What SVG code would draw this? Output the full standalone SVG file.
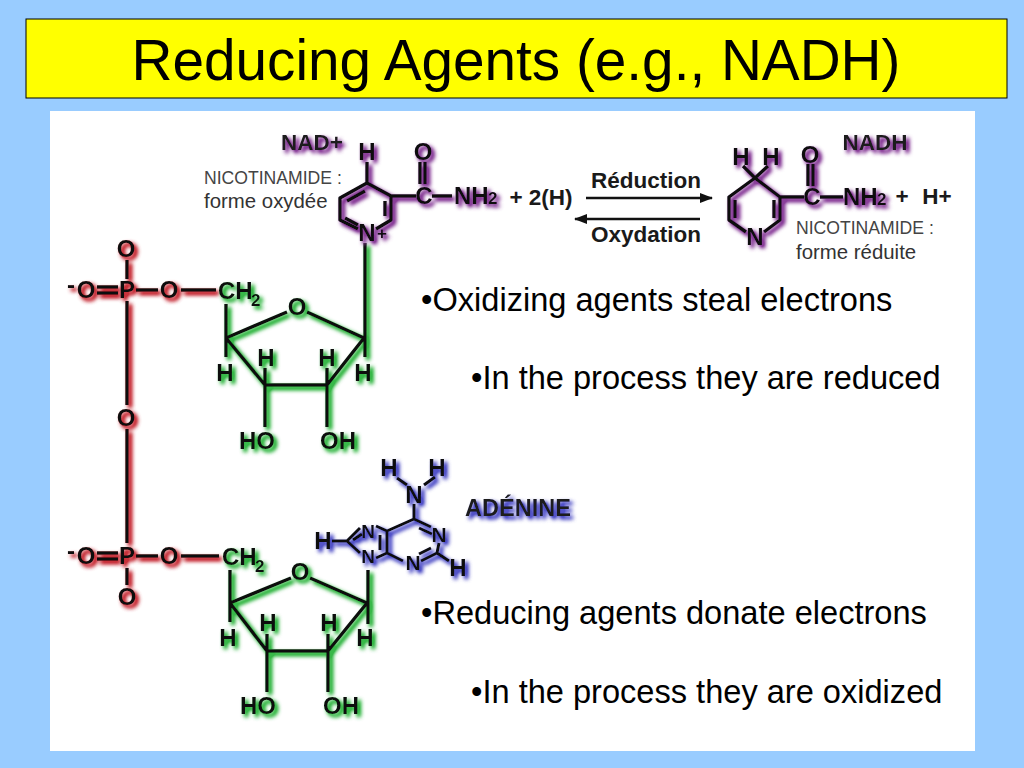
<svg xmlns="http://www.w3.org/2000/svg" width="1024" height="768" viewBox="0 0 1024 768">
<style>
text{font-family:"Liberation Sans",Arial,sans-serif;fill:#000}
.title{font-size:56.7px;text-anchor:middle}
.body{font-size:32.6px}
.a{font-size:24px;font-weight:bold;text-anchor:middle;fill:#0c0c0c}
.s{font-size:17px;font-weight:bold;fill:#0c0c0c}
.lab{font-size:22.5px;font-weight:bold;fill:#1a1a1a;text-anchor:middle}
.cap{font-size:17.6px;fill:#444}
.capd{font-size:20.4px;fill:#333}
.b{stroke:#0c0c0c;stroke-width:3.4;fill:none;stroke-linejoin:round}
.t{stroke:#111;stroke-width:2.6;fill:none}
</style>
<defs>
<filter id="gr" x="-20%" y="-20%" width="140%" height="140%"><feGaussianBlur in="SourceAlpha" stdDeviation="2"/><feOffset dx="3" dy="3"/><feComponentTransfer result="a"><feFuncA type="linear" slope="1.7"/></feComponentTransfer><feFlood flood-color="#c8303a"/><feComposite in2="a" operator="in"/><feMerge><feMergeNode/><feMergeNode in="SourceGraphic"/></feMerge></filter>
<filter id="gg" x="-20%" y="-20%" width="140%" height="140%"><feGaussianBlur in="SourceAlpha" stdDeviation="2"/><feOffset dx="3" dy="3"/><feComponentTransfer result="a"><feFuncA type="linear" slope="1.7"/></feComponentTransfer><feFlood flood-color="#38b848"/><feComposite in2="a" operator="in"/><feMerge><feMergeNode/><feMergeNode in="SourceGraphic"/></feMerge></filter>
<filter id="gp" x="-20%" y="-20%" width="140%" height="140%"><feGaussianBlur in="SourceAlpha" stdDeviation="2"/><feOffset dx="3" dy="3"/><feComponentTransfer result="a"><feFuncA type="linear" slope="1.7"/></feComponentTransfer><feFlood flood-color="#8a3f9a"/><feComposite in2="a" operator="in"/><feMerge><feMergeNode/><feMergeNode in="SourceGraphic"/></feMerge></filter>
<filter id="gb" x="-20%" y="-20%" width="140%" height="140%"><feGaussianBlur in="SourceAlpha" stdDeviation="2"/><feOffset dx="3" dy="3"/><feComponentTransfer result="a"><feFuncA type="linear" slope="1.7"/></feComponentTransfer><feFlood flood-color="#5252c8"/><feComposite in2="a" operator="in"/><feMerge><feMergeNode/><feMergeNode in="SourceGraphic"/></feMerge></filter>
<marker id="ah" markerUnits="userSpaceOnUse" markerWidth="13" markerHeight="11" refX="12" refY="5.5" orient="auto"><path d="M0,0.5L13,5.5L0,10.5z" fill="#111"/></marker>
</defs>
<rect width="1024" height="768" fill="#99CCFF"/>
<g id="title-box"><rect x="26" y="19" width="981" height="79" fill="#FFFF00" stroke="#000" stroke-width="1"/><text class="title" x="516" y="80">Reducing Agents (e.g., NADH)</text></g>
<rect x="50" y="111" width="925" height="640" fill="#fff"/>

<g id="phosphate" filter="url(#gr)">
<path class="b" d="M127,260V279M97,287H118M97,293H118M136,290H158M181,290H216M127,301V405M127,429V543M127,568V585M97,553H118M97,559H118M136,556H158M181,556H219"/>
<text class="a" x="126" y="257">O</text><text class="a" x="71" y="293">-</text><text class="a" x="86" y="298">O</text><text class="a" x="127" y="298">P</text><text class="a" x="169" y="298">O</text>
<text class="a" x="126" y="426">O</text>
<text class="a" x="71" y="559">-</text><text class="a" x="86" y="564">O</text><text class="a" x="127" y="564">P</text><text class="a" x="169" y="564">O</text><text class="a" x="127" y="605">O</text>
</g>

<g id="ribose-top" filter="url(#gg)">
<path class="b" d="M226,304V357M226,338L287,312M307,312L364,338L327,385H265L226,338M365,243V357M265,368V427M327,368V427"/>
<text class="a" x="218" y="299" style="text-anchor:start">CH</text><text class="s" x="251" y="306">2</text>
<text class="a" x="297" y="315">O</text><text class="a" x="266" y="366">H</text><text class="a" x="327" y="366">H</text><text class="a" x="225" y="381">H</text><text class="a" x="363" y="381">H</text><text class="a" x="257" y="449">HO</text><text class="a" x="338" y="449">OH</text>
</g>

<g id="ribose-bottom" filter="url(#gg)">
<path class="b" d="M230,570V622M230,603L291,578M310,578L367,603L328,651H267L230,603M368,570V624M267,634V692M328,634V692"/>
<text class="a" x="222" y="565" style="text-anchor:start">CH</text><text class="s" x="255" y="572">2</text>
<text class="a" x="300" y="580">O</text><text class="a" x="268" y="631">H</text><text class="a" x="329" y="631">H</text><text class="a" x="228" y="646">H</text><text class="a" x="365" y="646">H</text><text class="a" x="258" y="714">HO</text><text class="a" x="341" y="714">OH</text>
</g>

<g id="nad-ring" filter="url(#gp)">
<path class="b" d="M367,162V183L391,196V220L376,229M358,229L340,220V198L367,183M391,196H416M347,201L365,191M385,201V216M345,218L358,225M420,162V184M425,162V184M432,196H452"/>
<text class="a" x="367" y="160">H</text><text class="a" x="423" y="160">O</text><text class="a" x="424" y="204">C</text>
<text class="a" x="367" y="241">N</text><text class="s" x="377" y="239">+</text>
<text class="a" x="454" y="204" style="text-anchor:start">NH</text><text class="s" x="488" y="204">2</text>
<text class="lab" x="312" y="150">NAD+</text>
</g>
<g id="nad-labels">
<text class="cap" x="204" y="184">NICOTINAMIDE :</text><text class="capd" x="204" y="208">forme oxydée</text>
<text class="lab" x="541" y="205">+ 2(H)</text>
</g>

<g id="connectors">
<path class="t" marker-end="url(#ah)" d="M586,198H712"/>
<path class="t" marker-end="url(#ah)" d="M700,219H575"/>
<text class="lab" x="646" y="188">Réduction</text>
<text class="lab" x="646" y="242">Oxydation</text>
</g>

<g id="nadh-ring" filter="url(#gp)">
<path class="b" d="M743,166L755,178L768,166M755,178L780,197V220L764,232M746,232L729,220V197L755,178M735,200V218M774,200V218M780,197H804M808,164V186M813,164V186M820,197H843"/>
<text class="a" x="741" y="165">H</text><text class="a" x="771" y="165">H</text><text class="a" x="810" y="163">O</text><text class="a" x="812" y="205">C</text>
<text class="a" x="755" y="245">N</text>
<text class="a" x="843" y="205" style="text-anchor:start">NH</text><text class="s" x="877" y="205">2</text>
<text class="lab" x="875" y="150">NADH</text>
</g>
<g id="nadh-labels">
<text class="lab" x="902" y="204">+</text><text class="lab" x="937" y="204">H+</text>
<text class="cap" x="796" y="234">NICOTINAMIDE :</text><text class="capd" x="796" y="259">forme réduite</text>
</g>

<g id="adenine" filter="url(#gb)">
<path class="b" style="stroke-width:3" d="M397,478L407,485M435,477L424,485M414,504V519L431,527M414,519L387,531V553L403,561M387,531L376,526M387,553L376,558M360,528L347,541L360,553M332,541H347M439,543L437,553L421,561M431,548L419,554M437,553L449,561M419,528L432,534M380,535V550M353,540L362,534"/>
<text class="a" x="389" y="476">H</text><text class="a" x="437" y="476">H</text><text class="a" x="414" y="503">N</text>
<text class="a" x="439" y="542" style="font-size:21px">N</text><text class="a" x="413" y="570" style="font-size:21px">N</text><text class="a" x="368" y="538" style="font-size:19px">N</text><text class="a" x="368" y="563" style="font-size:19px">N</text>
<text class="a" x="323" y="549">H</text><text class="a" x="458" y="576">H</text>
<text class="lab" x="518" y="516" style="font-size:23.5px">ADÉNINE</text>
</g>

<g id="notes">
<text class="body" x="421" y="311">•Oxidizing agents steal electrons</text>
<text class="body" x="471" y="389">•In the process they are reduced</text>
<text class="body" x="421" y="624">•Reducing agents donate electrons</text>
<text class="body" x="471" y="703">•In the process they are oxidized</text>
</g>
</svg>
